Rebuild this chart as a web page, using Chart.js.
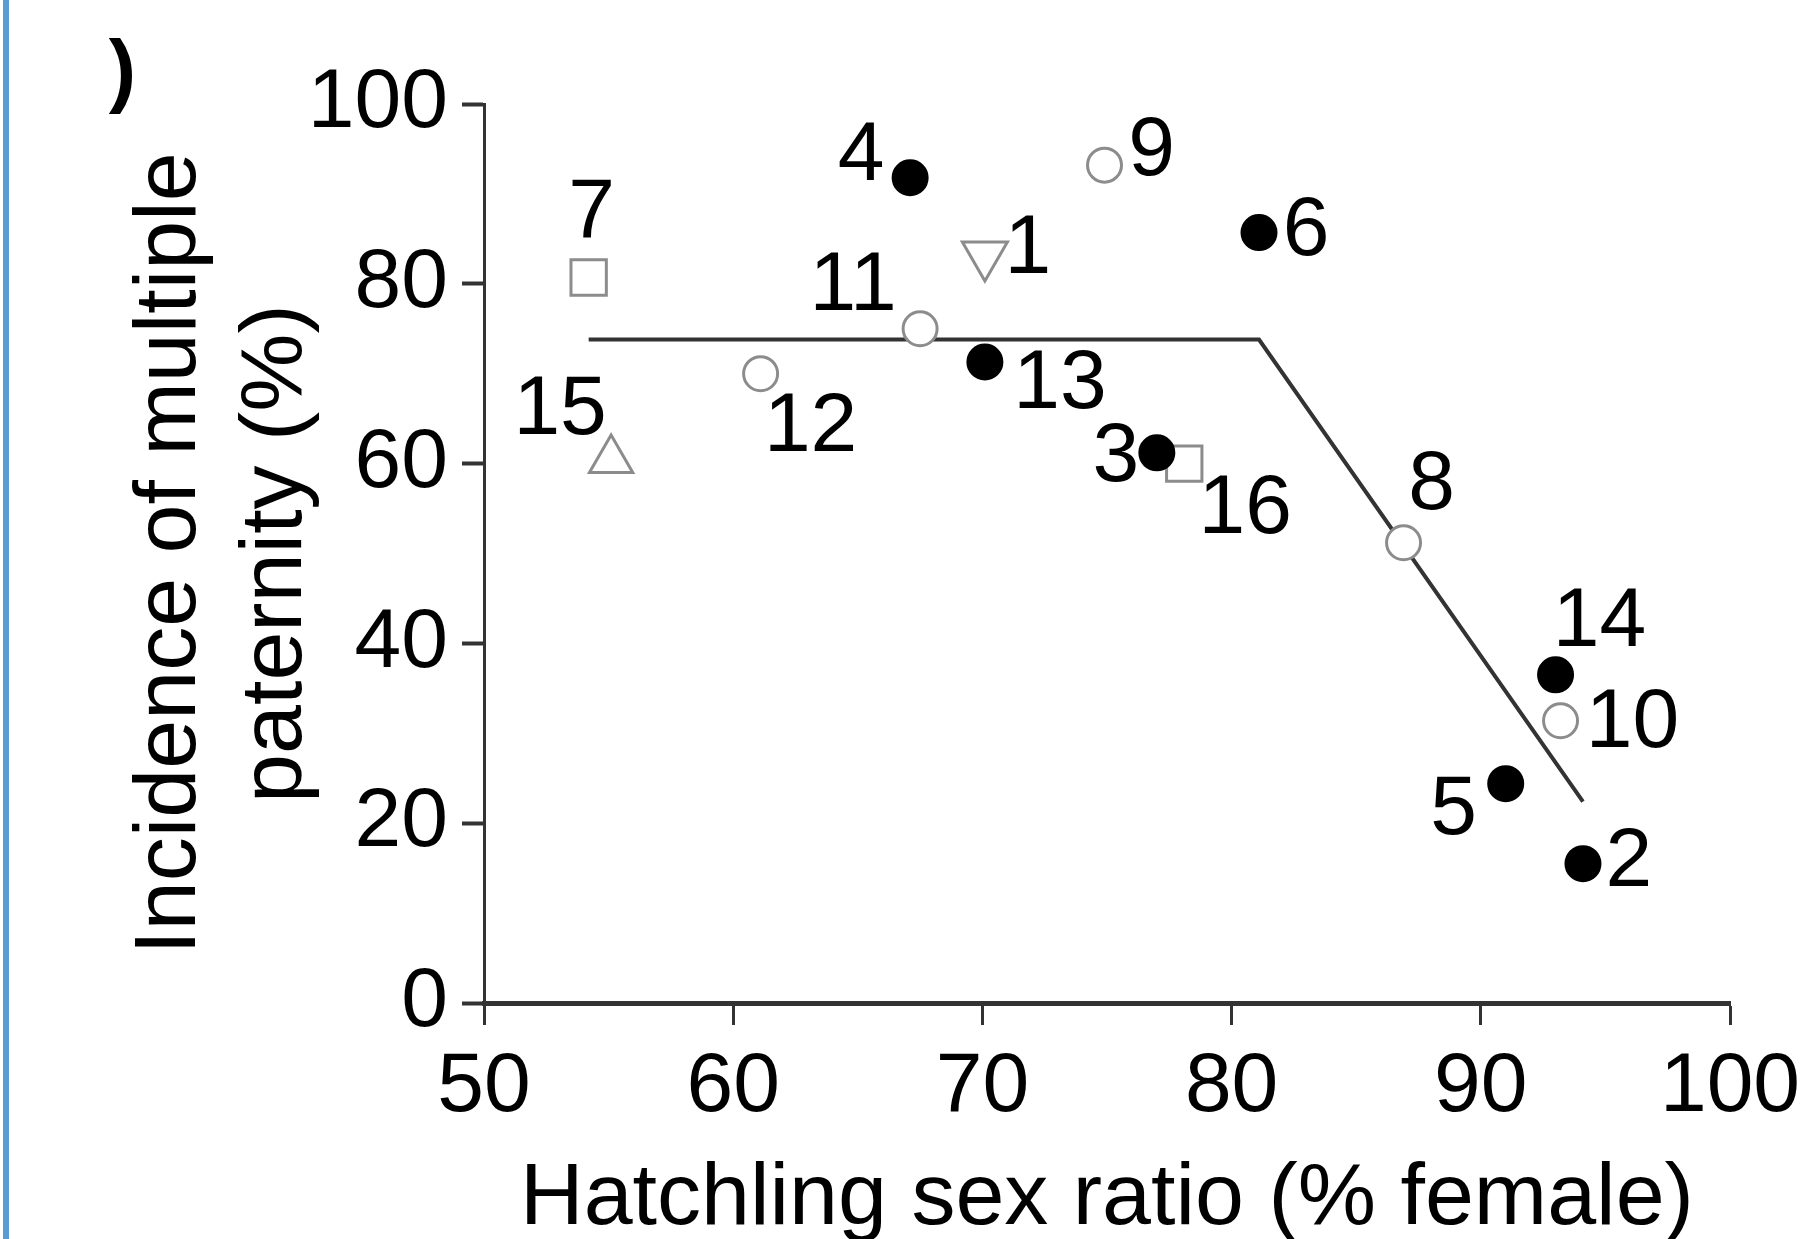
<!DOCTYPE html>
<html>
<head>
<meta charset="utf-8">
<script src="https://cdn.jsdelivr.net/npm/chart.js@4/dist/chart.umd.min.js"></script>
<style>
  html, body { margin: 0; padding: 0; background: #fff; }
  #wrap { position: relative; width: 1816px; height: 1239px; }
  #edge { position: absolute; left: 3px; top: 0; width: 6px; height: 1239px; background: #5b9bd5; }
</style>
</head>
<body>
<div id="wrap">
  <canvas id="paternityChart"></canvas>
  <div id="edge"></div>
</div>
<script>
// Population numbers and their values
const siteIds = ['1', '2', '3', '4', '5', '6', '7', '8', '9', '10', '11', '12', '13', '14', '15', '16'];
const sexRatio = [70.1, 94.1, 77.0, 67.1, 91.0, 81.1, 54.2, 86.9, 74.9, 93.2, 67.5, 61.1, 70.1, 93.0, 55.1, 78.1];
const multiplePaternity = [83.2, 15.5, 61.2, 91.8, 24.4, 85.7, 80.7, 51.2, 93.2, 31.4, 75.0, 70.0, 71.3, 36.5, 60.4, 60.0];
const markerKind = ['down', 'filled', 'filled', 'filled', 'filled', 'filled', 'square', 'open', 'open', 'open', 'open', 'open', 'filled', 'filled', 'up', 'square'];

// Piecewise fit
const fitX = [54.2, 81.1, 94.1];
const fitY = [73.8, 73.8, 22.4];

// Tick labels
const xTicks = [50, 60, 70, 80, 90, 100];
const yTicks = [0, 20, 40, 60, 80, 100];

// Label placement next to each point (pixels)
const labelDx = [43, 46, -41, -49, -52, 47, 3, 28, 47, 72, -67, 50, 75, 44, -51, 61];
const labelDy = [-5, -1, 5, -21, 27, -1, -64, -57, -13, 3, -42, 54, 23, -52, -49, 46];

const GREY = '#8c8c8c';
const INK = '#333333';
const FONT = '"Liberation Sans", Arial, sans-serif';

const markerStyles = {
  filled: { pointStyle: 'circle', radius: 17, bg: '#000', border: '#000', rotation: 0 },
  open:   { pointStyle: 'circle', radius: 17, bg: '#fff', border: GREY, rotation: 0 },
  square: { pointStyle: 'rect', radius: 25, bg: '#fff', border: GREY, rotation: 0 },
  up:     { pointStyle: 'triangle', radius: 25, bg: '#fff', border: GREY, rotation: 0 },
  down:   { pointStyle: 'triangle', radius: 26, bg: '#fff', border: GREY, rotation: 180 }
};

const buildMarkerSet = kind => {
  const idx = siteIds.map((_, i) => i).filter(i => markerKind[i] === kind);
  const st = markerStyles[kind];
  return {
    type: 'scatter',
    label: kind,
    data: idx.map(i => ({ x: sexRatio[i], y: multiplePaternity[i] })),
    pointStyle: st.pointStyle,
    pointRadius: st.radius,
    pointRotation: st.rotation,
    pointBackgroundColor: st.bg,
    pointBorderColor: st.border,
    pointBorderWidth: 3,
    order: 1
  };
};

const pointLabels = {
  id: 'pointLabels',
  afterDatasetsDraw(chart) {
    const { ctx, scales } = chart;
    ctx.save();
    ctx.fillStyle = '#000';
    ctx.font = '84px ' + FONT;
    ctx.textAlign = 'center';
    ctx.textBaseline = 'middle';
    siteIds.forEach((id, i) => {
      const px = scales.x.getPixelForValue(sexRatio[i]);
      const py = scales.y.getPixelForValue(multiplePaternity[i]);
      ctx.fillText(id, px + labelDx[i], py + labelDy[i]);
    });
    // cut-off panel letter at the top left
    ctx.font = 'bold 82px ' + FONT;
    ctx.textBaseline = 'alphabetic';
    ctx.textAlign = 'right';
    ctx.fillText(')', 136, 97);
    ctx.restore();
  }
};

const tickFont = { family: FONT, size: 84, lineHeight: 1.2 };

try {
  new Chart(document.getElementById('paternityChart'), {
    data: {
      datasets: [
        {
          type: 'line',
          label: 'fit',
          data: fitX.map((x, i) => ({ x, y: fitY[i] })),
          borderColor: INK,
          borderWidth: 4,
          pointRadius: 0,
          fill: false,
          tension: 0,
          order: 2
        },
        buildMarkerSet('filled'),
        buildMarkerSet('open'),
        buildMarkerSet('square'),
        buildMarkerSet('up'),
        buildMarkerSet('down')
      ]
    },
    options: {
      responsive: true,
      maintainAspectRatio: false,
      animation: false,
      layout: { padding: { top: 104, right: 86, left: 0, bottom: 0 } },
      plugins: { legend: { display: false }, tooltip: { enabled: false } },
      scales: {
        x: {
          type: 'linear',
          min: 50,
          max: 100,
          afterBuildTicks: scale => { scale.ticks = xTicks.map(v => ({ value: v })); },
          afterFit: scale => { scale.height = 236; },
          border: { display: true, color: INK, width: 5 },
          grid: { drawOnChartArea: false, tickLength: 22, tickWidth: 3, tickColor: INK },
          ticks: { color: '#000', font: tickFont, padding: 12, maxRotation: 0 },
          title: {
            display: true,
            text: 'Hatchling sex ratio (% female)',
            color: '#000',
            font: { family: FONT, size: 88, lineHeight: 1.2 },
            padding: { top: 0, bottom: -14 }
          }
        },
        y: {
          type: 'linear',
          min: 0,
          max: 100,
          afterBuildTicks: scale => { scale.ticks = yTicks.map(v => ({ value: v })); },
          afterFit: scale => { scale.width = 484; },
          border: { display: true, color: INK, width: 3 },
          grid: { drawOnChartArea: false, tickLength: 22, tickWidth: 4, tickColor: INK },
          ticks: { color: '#000', font: tickFont, padding: 14 },
          title: {
            display: true,
            text: ['Incidence of multiple', 'paternity (%)'],
            color: '#000',
            font: { family: FONT, size: 88, lineHeight: 1.2 },
            padding: { top: 118, bottom: 0 }
          }
        }
      }
    },
    plugins: [pointLabels]
  });
} catch (err) {
  console.error('Error rendering chart:', err);
}
</script>
</body>
</html>
